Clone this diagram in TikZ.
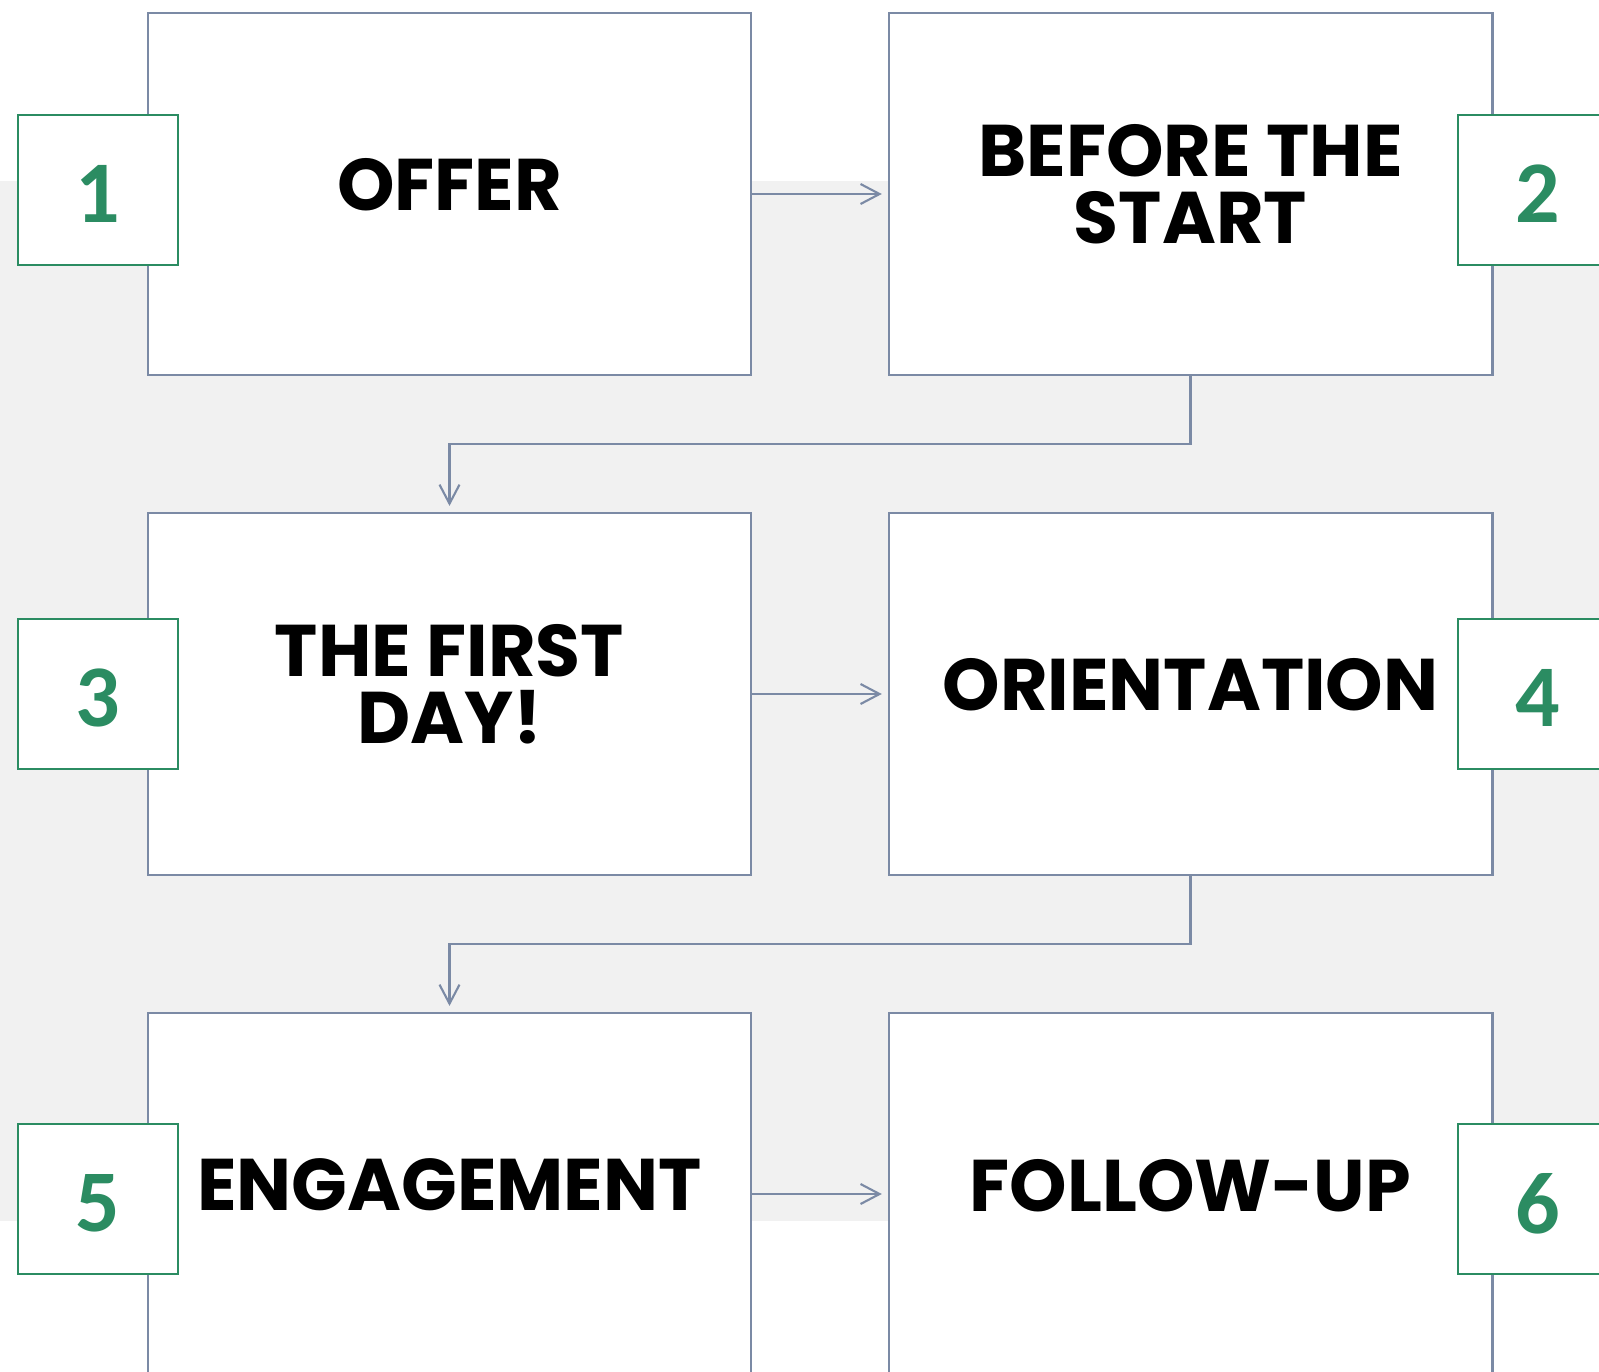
\documentclass[tikz,border=0pt]{standalone}
\usepackage{fontspec}
\newfontfamily\titlefont{Poppins}
\newfontfamily\numfont{Carlito}
\usetikzlibrary{arrows.meta}
\definecolor{edge}{HTML}{7B8AA5}
\definecolor{stepgreen}{HTML}{2B8C62}
\definecolor{bggray}{HTML}{F1F1F1}
\begin{document}
\begin{tikzpicture}[x=0.01cm,y=-0.01cm,
  card/.style={draw=edge,line width=0.75pt,fill=white,minimum width=6.03cm,minimum height=3.62cm,inner sep=0,outer sep=0},
  badge/.style={draw=stepgreen,line width=0.65pt,fill=white,minimum width=1.6cm,minimum height=1.5cm,inner sep=0,outer sep=0},
  digit/.style={text=stepgreen,font=\numfont\bfseries\fontsize{25}{25}\selectfont,inner sep=0,text depth=0pt},
  title/.style={font=\titlefont\bfseries\fontsize{20.8}{18.8}\selectfont,align=center,inner sep=0,text depth=0pt},
  flow/.style={draw=edge,line width=0.6pt,-{Straight Barb[length=0.19cm,width=0.2cm]},shorten >=0.07cm}
]
\clip (0,0) rectangle (1599,1372);
\fill[bggray] (0,181) rectangle (1599,1221);

% step cards
\node[card] (b1) at (449.5,194) {};
\node[card] (b2) at (1190.5,194) {};
\node[card] (b3) at (449.5,694) {};
\node[card] (b4) at (1190.5,694) {};
\node[card] (b5) at (449.5,1194) {};
\node[card] (b6) at (1190.5,1194) {};

% numbered badges
\node[badge] (n1) at (98,190) {};
\node[badge] (n2) at (1538,190) {};
\node[badge] (n3) at (98,694) {};
\node[badge] (n4) at (1538,694) {};
\node[badge] (n5) at (98,1199) {};
\node[badge] (n6) at (1538,1199) {};
\node[digit] (d1) at (98,194) {1};
\node[digit] (d2) at (1538,194) {2};
\node[digit] (d3) at (98,698) {3};
\node[digit] (d4) at (1538,698) {4};
\node[digit] (d5) at (98,1203) {5};
\node[digit] (d6) at (1538,1203) {6};

% titles
\node[title] (t1) at (449.5,184.5) {OFFER};
\node[title] (t2) at (1190.5,184) {BEFORE THE\\START};
\node[title] (t3) at (449.5,684) {THE FIRST\\DAY!};
\node[title] (t4) at (1190.5,684.5) {ORIENTATION};
\node[title] (t5) at (449.5,1185) {ENGAGEMENT};
\node[title] (t6) at (1190.5,1185) {FOLLOW-UP};

% flow connectors
\draw[flow] (b1.east) -- (b2.west);
\draw[flow] (b3.east) -- (b4.west);
\draw[flow] (b5.east) -- (b6.west);
\draw[flow] (b2.south) -- ++(0,69) -| (b3.north);
\draw[flow] (b4.south) -- ++(0,69) -| (b5.north);
\end{tikzpicture}
\end{document}
